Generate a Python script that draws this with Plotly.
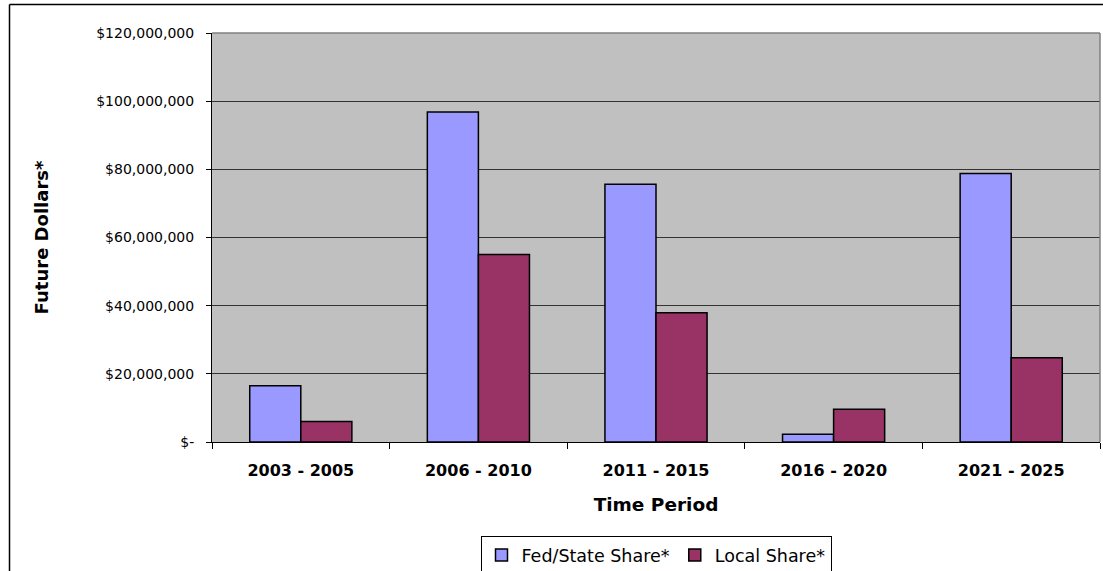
import plotly.graph_objects as go

categories = ["2003 - 2005", "2006 - 2010", "2011 - 2015", "2016 - 2020", "2021 - 2025"]
fed_state = [16.5e6, 96.8e6, 75.6e6, 2.3e6, 78.8e6]
local = [6.0e6, 55.0e6, 37.9e6, 9.6e6, 24.7e6]
y_tick_vals = [0, 20e6, 40e6, 60e6, 80e6, 100e6, 120e6]
y_tick_text = ["$-", "$20,000,000", "$40,000,000", "$60,000,000", "$80,000,000", "$100,000,000", "$120,000,000"]

W, H = 1103, 571
ml, mr, mt, mb = 212, 3, 33, 129
pw, ph = W - ml - mr, H - mt - mb

def px_x(x):
    return (x - ml) / pw

def px_y(y):
    return 1 - (y - mt) / ph

fig = go.Figure()
fig.add_trace(go.Bar(name="Fed/State Share*", x=categories, y=fed_state,
                     marker=dict(color="#9999FF", line=dict(color="black", width=1.5))))
fig.add_trace(go.Bar(name="Local Share*", x=categories, y=local,
                     marker=dict(color="#993366", line=dict(color="black", width=1.5))))

font_family = "DejaVu Sans, Verdana, sans-serif"

fig.update_layout(
    width=W, height=H,
    margin=dict(l=ml, r=mr, t=mt, b=mb, autoexpand=False),
    paper_bgcolor="white", plot_bgcolor="#C0C0C0",
    barmode="group", bargap=0.425, bargroupgap=0,
    font=dict(family=font_family, color="black"),
    showlegend=True,
    legend=dict(orientation="h", x=0.5, xanchor="center", y=px_y(536), yanchor="top",
                bordercolor="black", borderwidth=1, bgcolor="white",
                font=dict(size=17.5, family=font_family), itemwidth=30,
                traceorder="normal", tracegroupgap=0),
    xaxis=dict(
        title=dict(text="<b>Time Period</b>", font=dict(size=18.5), standoff=18),
        tickfont=dict(size=16), tickprefix="<b>", ticksuffix="</b>",
        showline=True, linecolor="black", linewidth=1,
        ticks="outside", tickson="boundaries", ticklen=6, tickcolor="black",
        ticklabelstandoff=14,
        showgrid=False, zeroline=False,
    ),
    yaxis=dict(
        title=dict(text="<b>Future Dollars*</b>", font=dict(size=18), standoff=42),
        range=[0, 120e6], tickvals=y_tick_vals, ticktext=y_tick_text,
        tickfont=dict(size=14),
        showline=True, linecolor="black", linewidth=1,
        ticks="outside", ticklen=5, tickcolor="black",
        ticklabelstandoff=9,
        showgrid=True, gridcolor="#333333", gridwidth=1, zeroline=False,
    ),
    shapes=[
        dict(type="line", xref="paper", yref="paper", x0=0, x1=1, y0=1, y1=1,
             line=dict(color="#808080", width=1.5)),
        dict(type="line", xref="paper", yref="paper", x0=1, x1=1, y0=0, y1=1,
             line=dict(color="#808080", width=1.5)),
        dict(type="line", xref="paper", yref="paper", x0=px_x(9.5), x1=px_x(1110), y0=px_y(4.5), y1=px_y(4.5),
             line=dict(color="black", width=1.5)),
        dict(type="line", xref="paper", yref="paper", x0=px_x(9.5), x1=px_x(9.5), y0=px_y(4.5), y1=px_y(580),
             line=dict(color="black", width=1.5)),
    ],
)

fig.write_html("out.html", config={"displayModeBar": False},
               post_script="document.body.style.margin='0';document.body.style.overflow='hidden';")
